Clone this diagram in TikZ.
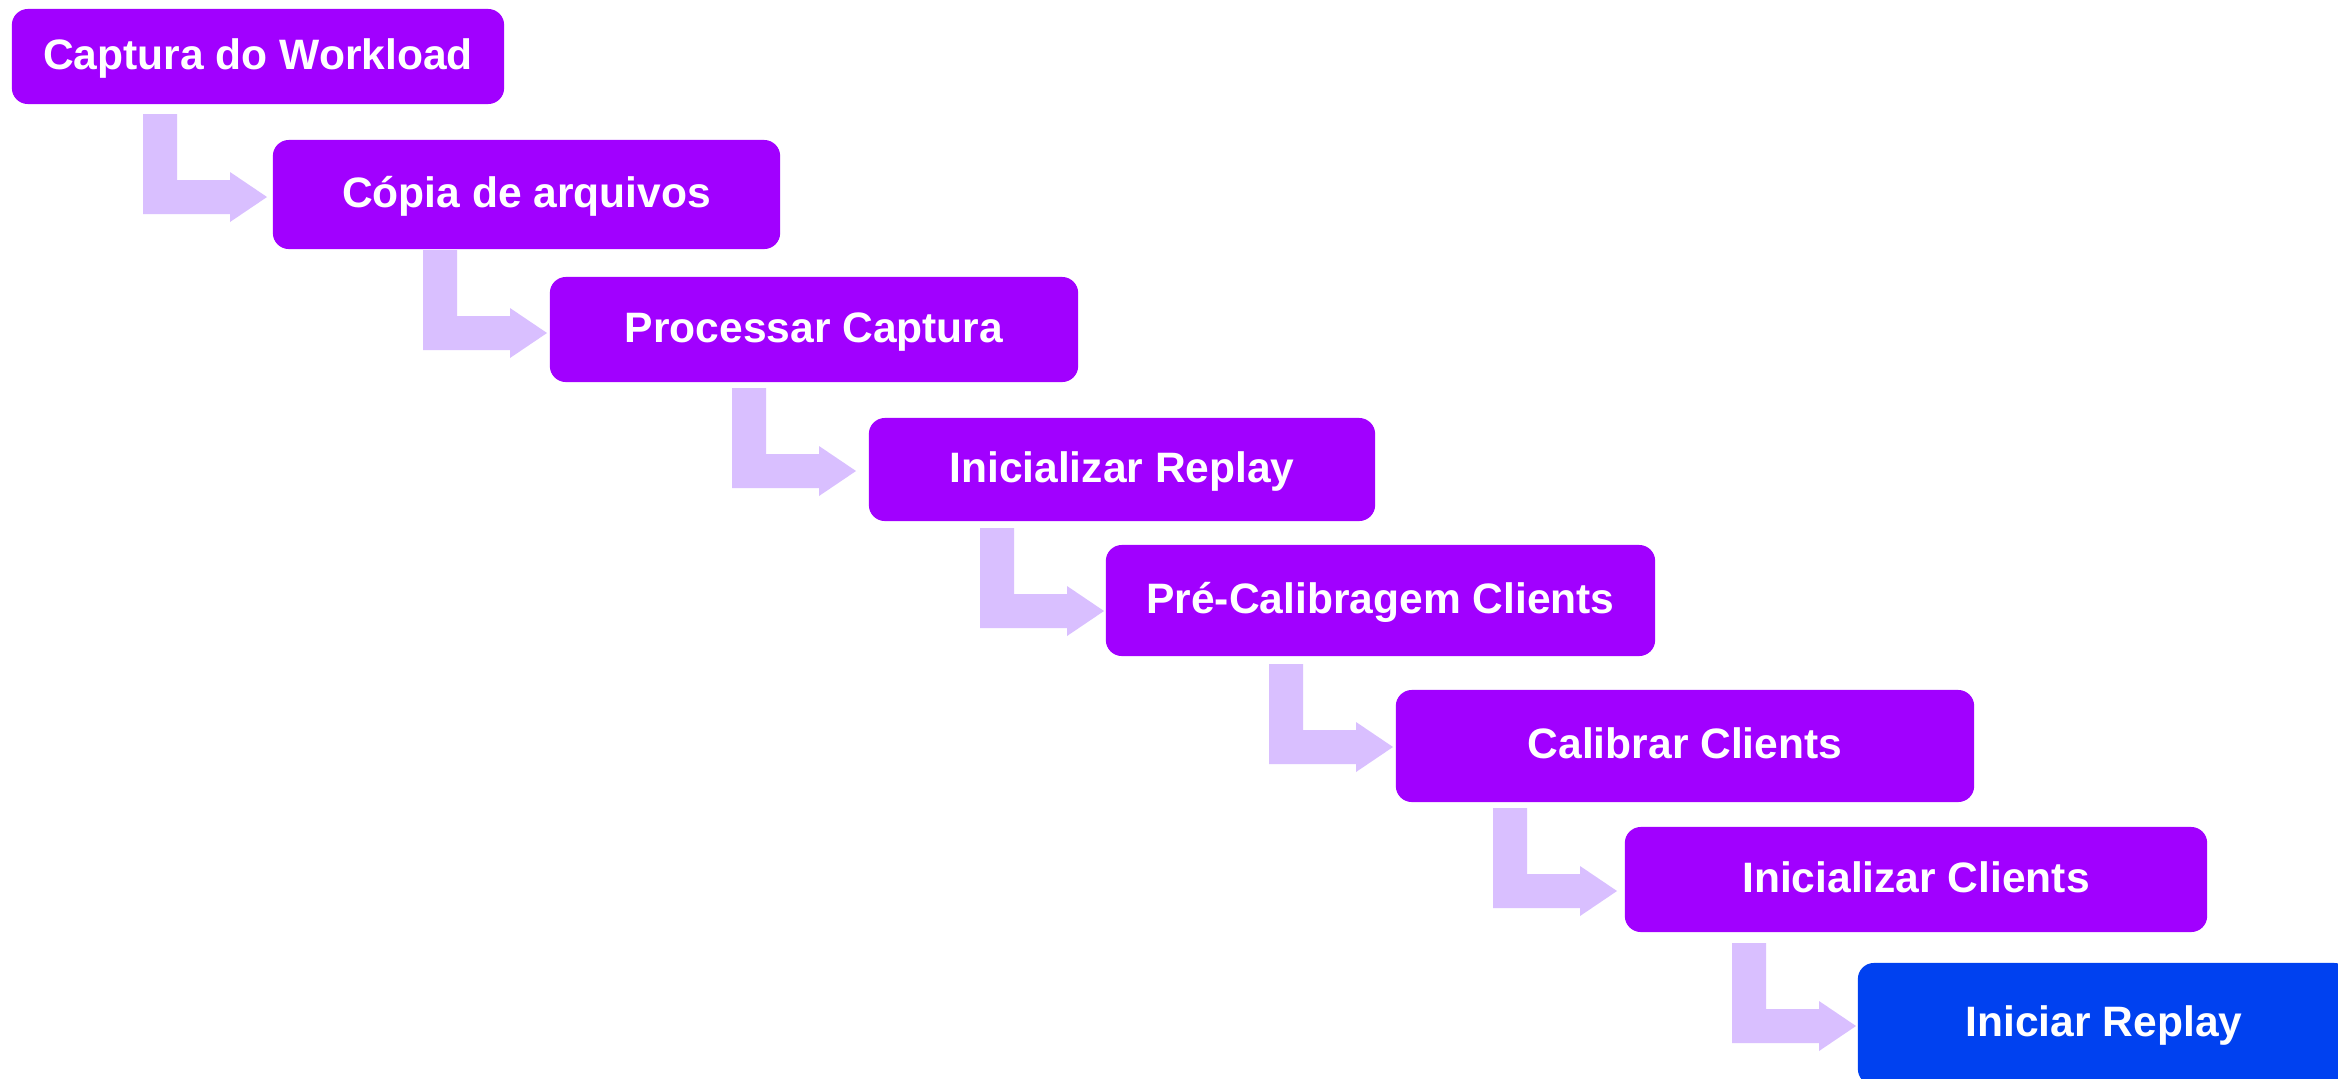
\documentclass[tikz,border=0pt]{standalone}
\usepackage{fontspec}
\setmainfont{Liberation Sans}
\definecolor{stepviolet}{HTML}{A100FF}
\definecolor{stepblue}{HTML}{0041F0}
\definecolor{arrowlilac}{HTML}{D9BFFF}
\tikzset{
  stepbox/.style={fill=stepviolet, draw=none, rounded corners=0.16cm,
    inner sep=0pt, text=white, align=center,
    font=\fontsize{12.1}{14.5}\selectfont\bfseries,
    text height=0.72em, text depth=0pt},
  laststep/.style={stepbox, fill=stepblue},
  larrow/.pic={
    \fill[arrowlilac] (-124,-83) -- (-90,-83) -- (-90,-17) -- (-37,-17)
      -- (-37,-25) -- (0,0) -- (-37,25) -- (-37,17) -- (-124,17) -- cycle;
  }
}
\begin{document}
\begin{tikzpicture}[x=0.01cm, y=-0.01cm]
  \useasboundingbox (0,0) rectangle (2338,1078);
  \clip (0,0) rectangle (2338,1078);
  \fill[white] (0,0) rectangle (2338,1078);

  % process steps
  \node[stepbox, minimum width=4.92cm, minimum height=0.95cm] (b1) at (258,56.5) {Captura do Workload};
  \node[stepbox, minimum width=5.07cm, minimum height=1.09cm] (b2) at (526.5,194.5) {Cópia de arquivos};
  \node[stepbox, minimum width=5.28cm, minimum height=1.05cm] (b3) at (814,329.5) {Processar Captura};
  \node[stepbox, minimum width=5.06cm, minimum height=1.03cm] (b4) at (1122,469.5) {Inicializar Replay};
  \node[stepbox, minimum width=5.49cm, minimum height=1.11cm] (b5) at (1380.5,600.5) {Pré-Calibragem Clients};
  \node[stepbox, minimum width=5.78cm, minimum height=1.12cm] (b6) at (1685,746) {Calibrar Clients};
  \node[stepbox, minimum width=5.82cm, minimum height=1.05cm] (b7) at (1916,879.5) {Inicializar Clients};
  \node[laststep, minimum width=4.92cm, minimum height=1.22cm] (b8) at (2104,1024) {Iniciar Replay};

  % elbow arrows: tip points just left of the following step
  \coordinate (t1) at (267,197);
  \coordinate (t2) at (547,333);
  \coordinate (t3) at (856,471);
  \coordinate (t4) at (1104,611);
  \coordinate (t5) at (1393,747);
  \coordinate (t6) at (1617,891);
  \coordinate (t7) at (1856,1026);
  \foreach \t in {t1,t2,t3,t4,t5,t6,t7} {
    \pic at (\t) {larrow};
  }
\end{tikzpicture}
\end{document}
